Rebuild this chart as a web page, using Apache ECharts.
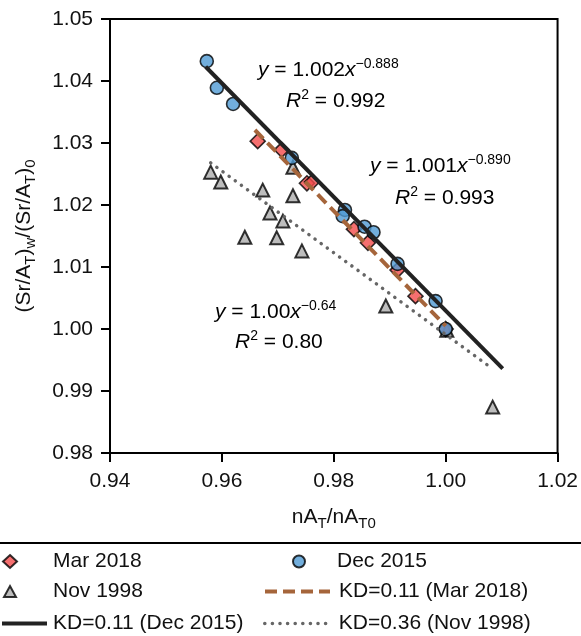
<!DOCTYPE html>
<html>
<head>
<meta charset="utf-8">
<script src="https://cdn.jsdelivr.net/npm/echarts@6/dist/echarts.min.js"></script>
<style>
  html, body { margin: 0; padding: 0; background: #fff; }
  #chart { width: 581px; height: 636px; }
</style>
</head>
<body>
<div id="chart"></div>
<script>
const decX = [0.9573, 0.9591, 0.9620, 0.9725, 0.9820, 0.9816, 0.9855, 0.9871, 0.9914, 0.9982, 1.0000];
const decY = [1.0432, 1.0389, 1.0363, 1.0276, 1.0192, 1.0182, 1.0165, 1.0156, 1.0105, 1.0045, 1.0000];

const marX = [0.9664, 0.9707, 0.9752, 0.9761, 0.9836, 0.9861, 0.9914, 0.9946, 1.0000];
const marY = [1.0303, 1.0289, 1.0235, 1.0237, 1.0161, 1.0139, 1.0095, 1.0053, 1.0000];

const novX = [0.9580, 0.9598, 0.9673, 0.9727, 0.9727, 0.9686, 0.9709, 0.9641, 0.9698, 0.9743, 0.9893, 1.0002, 1.0084];
const novY = [1.0253, 1.0237, 1.0224, 1.0261, 1.0215, 1.0187, 1.0174, 1.0148, 1.0147, 1.0126, 1.0037, 0.9998, 0.9874];

// fitted curves (end points)
const decFitX = [0.9571, 1.0102];
const decFitY = [1.0423, 0.9936];
const marFitX = [0.9659, 1.0000];
const marFitY = [1.0321, 1.0005];
const novFitX = [0.9580, 1.0079];
const novFitY = [1.0268, 0.9939];

const xTicks = [0.94, 0.96, 0.98, 1.00, 1.02];
const yTicks = [0.98, 0.99, 1.00, 1.01, 1.02, 1.03, 1.04, 1.05];

const zip = (xs, ys) => xs.map((x, i) => [x, ys[i]]);

const FONT = 'Liberation Sans, Arial, Helvetica, sans-serif';
const FS = 21;
const BROWN_TXT = '#8c4a1c';
const GRAY_TXT = '#7a7a7a';

const eqRich = (color) => ({
  i: { fontStyle: 'italic', fontSize: FS, color: color, fontFamily: FONT, lineHeight: 26 },
  n: { fontSize: FS, color: color, fontFamily: FONT, lineHeight: 26 },
  sup: { fontSize: 14, color: color, fontFamily: FONT, verticalAlign: 'top', lineHeight: 10 }
});

const subRich = {
  n: { fontSize: FS, color: '#111', fontFamily: FONT, lineHeight: 28 },
  s: { fontSize: 15, color: '#111', fontFamily: FONT, verticalAlign: 'bottom', lineHeight: 12 }
};

let chart = echarts.init(document.getElementById('chart'), null, { renderer: 'canvas' });

// one legend block per entry so each sits where it does in the figure
function legendAt(name, left, top, itemWidth, gap, itemHeight, lineWidth) {
  const lg = {
    data: [name], left: left, top: top, padding: 0,
    itemWidth: itemWidth, itemHeight: itemHeight,
    selectedMode: false,
    textStyle: { fontSize: FS, color: '#111', fontFamily: FONT, padding: [0, 0, 0, gap] }
  };
  if (lineWidth) {
    // hide the marker echarts puts in the middle of a line legend icon
    lg.itemStyle = { color: 'rgba(0,0,0,0)', borderWidth: 0, opacity: 0 };
    lg.lineStyle = { width: lineWidth };
  }
  return lg;
}

chart.setOption({
  animation: false,
  backgroundColor: '#fff',
  textStyle: { fontFamily: FONT },
  grid: {
    left: 110, right: 23, top: 19, bottom: 183,
    show: true, borderColor: '#000', borderWidth: 2
  },
  xAxis: {
    type: 'value',
    min: xTicks[0], max: xTicks[xTicks.length - 1], interval: 0.02,
    name: '{n|nA}{s|T}{n|/nA}{s|T0}',
    nameLocation: 'middle', nameGap: 50,
    nameTextStyle: { rich: subRich },
    axisLine: { lineStyle: { color: '#000', width: 2 } },
    axisTick: { inside: false, length: 9, lineStyle: { color: '#000', width: 2 } },
    axisLabel: { fontSize: FS, color: '#111', margin: 18, formatter: v => v.toFixed(2) },
    splitLine: { show: false }
  },
  yAxis: {
    type: 'value',
    min: yTicks[0], max: yTicks[yTicks.length - 1], interval: 0.01,
    name: '{n|(Sr/A}{s|T}{n|)}{s|w}{n|/(Sr/A}{s|T}{n|)}{s|0}',
    nameLocation: 'middle', nameGap: 72,
    nameTextStyle: { rich: subRich },
    axisLine: { lineStyle: { color: '#000', width: 2 } },
    axisTick: { inside: false, length: 9, lineStyle: { color: '#000', width: 2 } },
    axisLabel: { fontSize: FS, color: '#111', margin: 17, formatter: v => v.toFixed(2) },
    splitLine: { show: false }
  },
  legend: [
    legendAt('Mar 2018', 2, 551, 14, 31, 13),
    legendAt('Nov 1998', 3, 581, 12, 32, 11),
    legendAt('KD=0.11 (Dec 2015)', 0, 613, 45, 1, 14, 4),
    legendAt('Dec 2015', 292, 551, 12, 27, 12),
    legendAt('KD=0.11 (Mar 2018)', 263, 581, 65, 4, 14, 4),
    legendAt('KD=0.36 (Nov 1998)', 263, 613, 65, 4, 14, 3.5)
  ],
  graphic: [
    // divider line above the legend
    { type: 'line', shape: { x1: 0, y1: 543, x2: 581, y2: 543 },
      style: { stroke: '#000', lineWidth: 2 } },
    // fit equations
    { type: 'text', x: 258, y: 70,
      style: { text: '{i|y}{n| = 1.002}{i|x}{sup|−0.888}', rich: eqRich('#111'), verticalAlign: 'middle' } },
    { type: 'text', x: 286, y: 101,
      style: { text: '{i|R}{sup|2}{n| = 0.992}', rich: eqRich('#111'), verticalAlign: 'middle' } },
    { type: 'text', x: 370, y: 166,
      style: { text: '{i|y}{n| = 1.001}{i|x}{sup|−0.890}', rich: eqRich(BROWN_TXT), verticalAlign: 'middle' } },
    { type: 'text', x: 395, y: 198,
      style: { text: '{i|R}{sup|2}{n| = 0.993}', rich: eqRich(BROWN_TXT), verticalAlign: 'middle' } },
    { type: 'text', x: 215, y: 312,
      style: { text: '{i|y}{n| = 1.00}{i|x}{sup|−0.64}', rich: eqRich(GRAY_TXT), verticalAlign: 'middle' } },
    { type: 'text', x: 235, y: 342,
      style: { text: '{i|R}{sup|2}{n| = 0.80}', rich: eqRich(GRAY_TXT), verticalAlign: 'middle' } }
  ],
  series: [
    {
      name: 'Nov 1998', type: 'scatter', symbol: 'triangle', symbolSize: 13,
      data: zip(novX, novY), z: 2,
      itemStyle: { color: '#acacac', borderColor: '#000', borderWidth: 2 }
    },
    {
      name: 'Mar 2018', type: 'scatter', symbol: 'diamond', symbolSize: 15,
      data: zip(marX, marY), z: 2,
      itemStyle: { color: '#f24b4b', borderColor: '#000', borderWidth: 1.6 }
    },
    {
      name: 'Dec 2015', type: 'scatter', symbol: 'circle', symbolSize: 13,
      data: zip(decX, decY), z: 2,
      itemStyle: { color: '#4f9ad3', borderColor: '#000', borderWidth: 1.6 }
    },
    {
      name: 'KD=0.11 (Dec 2015)', type: 'line', symbol: 'none', data: zip(decFitX, decFitY), z: 4,
      lineStyle: { color: '#222', width: 4 }, itemStyle: { color: '#222' }
    },
    {
      name: 'KD=0.11 (Mar 2018)', type: 'line', symbol: 'none', data: zip(marFitX, marFitY), z: 4,
      lineStyle: { color: '#a5653b', width: 4, type: [12, 6] }, itemStyle: { color: '#a5653b' }
    },
    {
      name: 'KD=0.36 (Nov 1998)', type: 'line', symbol: 'none', data: zip(novFitX, novFitY), z: 4,
      lineStyle: { color: '#666', width: 3.5, type: [0.1, 7.5], cap: 'round' }, itemStyle: { color: '#666' }
    }
  ]
});
</script>
</body>
</html>
